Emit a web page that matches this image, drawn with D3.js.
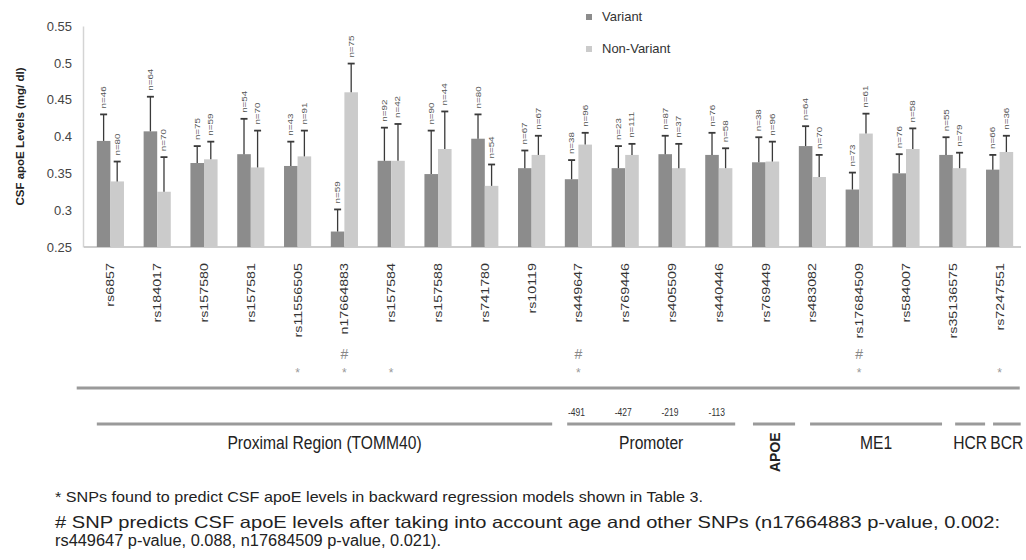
<!DOCTYPE html>
<html>
<head>
<meta charset="utf-8">
<script src="https://cdn.jsdelivr.net/npm/d3@7"></script>
<style>
  body { margin: 0; background: #fff; }
  svg { display: block; font-family: "Liberation Sans", Arial, sans-serif; }
</style>
</head>
<body>
<svg></svg>
<script>
let width = 1026;
let height = 560;

let snps = ["rs6857", "rs184017", "rs157580", "rs157581", "rs11556505", "n17664883",
            "rs157584", "rs157588", "rs741780", "rs10119", "rs449647", "rs769446",
            "rs405509", "rs440446", "rs769449", "rs483082", "rs17684509", "rs584007",
            "rs35136575", "rs7247551"];
let series = ["Variant", "Non-Variant"];

let variantMean = [0.394, 0.407, 0.364, 0.376, 0.360, 0.271, 0.367, 0.349, 0.397, 0.357,
                   0.342, 0.357, 0.376, 0.375, 0.365, 0.387, 0.328, 0.350, 0.375, 0.355];
let variantErr  = [0.430, 0.454, 0.387, 0.424, 0.393, 0.301, 0.412, 0.408, 0.430, 0.381,
                   0.368, 0.387, 0.401, 0.405, 0.399, 0.414, 0.351, 0.376, 0.399, 0.375];
let variantN    = [46, 64, 75, 54, 43, 59, 92, 90, 80, 67, 38, 23, 87, 76, 38, 64, 73, 76, 55, 66];

let nonMean = [0.339, 0.325, 0.369, 0.358, 0.373, 0.460, 0.367, 0.383, 0.333, 0.375,
               0.389, 0.375, 0.357, 0.357, 0.366, 0.345, 0.404, 0.383, 0.357, 0.379];
let nonErr  = [0.366, 0.372, 0.393, 0.408, 0.408, 0.499, 0.417, 0.434, 0.362, 0.401,
               0.405, 0.390, 0.390, 0.384, 0.393, 0.375, 0.431, 0.411, 0.378, 0.401];
let nonN    = [80, 70, 59, 70, 91, 75, 42, 44, 54, 67, 96, 111, 37, 58, 96, 70, 61, 58, 79, 36];

let yTicks = [0.25, 0.3, 0.35, 0.4, 0.45, 0.5, 0.55];

let hashSnps = ["n17664883", "rs449647", "rs17684509"];
let starSnps = ["rs11556505", "n17664883", "rs157584", "rs449647", "rs17684509", "rs7247551"];

let promoterSnps = ["rs449647", "rs769446", "rs405509", "rs440446"];
let promoterPos = ["-491", "-427", "-219", "-113"];

// region spans in SNP index units
let regionNames = ["Proximal Region (TOMM40)", "Promoter", "APOE", "ME1", "HCR", "BCR"];
let regionFrom  = [-0.29, 9.76, 13.73, 14.95, 18.05, 18.86];
let regionTo    = [9.44, 13.35, 14.63, 17.77, 18.69, 19.45];

let notes = [
    "* SNPs found to predict CSF apoE levels in backward regression models shown in Table 3.",
    "# SNP predicts CSF apoE levels after taking into account age and other SNPs (n17664883 p-value, 0.002:",
    "rs449647 p-value, 0.088, n17684509 p-value, 0.021)."
];
let noteWidths = [648, 945, 386];
let noteSizes = [15, 16.5, 16];

let colors = { "Variant": "#8c8c8c", "Non-Variant": "#cbcbcb" };

let data = snps.map((s, i) => ({
    snp: s,
    values: [
        { key: "Variant", mean: variantMean[i], err: variantErr[i], n: variantN[i] },
        { key: "Non-Variant", mean: nonMean[i], err: nonErr[i], n: nonN[i] }
    ]
}));

let svg = d3.select('svg')
    .attr('width', width)
    .attr('height', height);

svg.append('rect').attr('width', width).attr('height', height).attr('fill', '#fff');

let xScale = d3.scaleBand()
    .domain(snps)
    .range([87, 1023])
    .paddingInner(0.42)
    .paddingOuter(0.21);

let xSub = d3.scaleBand()
    .domain(series)
    .range([0, xScale.bandwidth()]);

let yScale = d3.scaleLinear()
    .domain([0.25, 0.55])
    .range([247, 26]);

let idx = d3.scaleLinear()
    .domain([0, snps.length - 1])
    .range([xScale(snps[0]) + xScale.bandwidth() / 2,
            xScale(snps[snps.length - 1]) + xScale.bandwidth() / 2]);

let cx = s => xScale(s) + xScale.bandwidth() / 2;

// y axis
let yAxis = d3.axisLeft(yScale)
    .tickValues(yTicks)
    .tickFormat(d => String(+d.toFixed(2)))
    .tickSize(0)
    .tickPadding(11);

let yg = svg.append('g')
    .attr('transform', 'translate(83, 0)')
    .call(yAxis);
yg.select('.domain').attr('stroke', '#d4d4d4').attr('stroke-width', 1.5);
yg.selectAll('text')
    .attr('font-size', 13)
    .attr('font-family', 'Liberation Sans')
    .attr('fill', '#444');

svg.append('line')
    .attr('x1', 84).attr('x2', 1021)
    .attr('y1', yScale(0.25)).attr('y2', yScale(0.25))
    .attr('stroke', '#bdbdbd').attr('stroke-width', 1.5);

svg.append('text')
    .attr('transform', `translate(24, ${yScale(0.4)}) rotate(-90)`)
    .attr('text-anchor', 'middle')
    .attr('font-size', 11.5)
    .attr('font-weight', 'bold')
    .attr('fill', '#222')
    .text('CSF apoE Levels (mg/ dl)');

// bars
let groups = svg.selectAll('g.snp')
    .data(data)
    .enter()
    .append('g')
        .attr('class', 'snp')
        .attr('transform', d => `translate(${xScale(d.snp)}, 0)`);

groups.selectAll('rect')
    .data(d => d.values)
    .enter()
    .append('rect')
        .attr('x', d => xSub(d.key))
        .attr('y', d => yScale(d.mean))
        .attr('width', xSub.bandwidth())
        .attr('height', d => yScale(0.25) - yScale(d.mean))
        .attr('fill', d => colors[d.key]);

groups.selectAll('line.err')
    .data(d => d.values)
    .enter()
    .append('line')
        .attr('class', 'err')
        .attr('x1', d => xSub(d.key) + xSub.bandwidth() / 2)
        .attr('x2', d => xSub(d.key) + xSub.bandwidth() / 2)
        .attr('y1', d => yScale(d.mean))
        .attr('y2', d => yScale(d.err))
        .attr('stroke', '#3a3a3a')
        .attr('stroke-width', 1.3);

groups.selectAll('line.cap')
    .data(d => d.values)
    .enter()
    .append('line')
        .attr('class', 'cap')
        .attr('x1', d => xSub(d.key) + xSub.bandwidth() / 2 - 3.5)
        .attr('x2', d => xSub(d.key) + xSub.bandwidth() / 2 + 3.5)
        .attr('y1', d => yScale(d.err))
        .attr('y2', d => yScale(d.err))
        .attr('stroke', '#3a3a3a')
        .attr('stroke-width', 1.8);

groups.selectAll('text.n')
    .data(d => d.values)
    .enter()
    .append('text')
        .attr('class', 'n')
        .attr('transform', d => `translate(${xSub(d.key) + xSub.bandwidth() / 2 + 2.5}, ${yScale(d.err) - 6}) rotate(-90) scale(1.4, 1)`)
        .attr('font-size', 7)
        .attr('fill', '#555')
        .text(d => 'n=' + d.n);

// x labels
svg.selectAll('text.snp')
    .data(snps)
    .enter()
    .append('text')
        .attr('class', 'snp')
        .attr('transform', d => `translate(${cx(d) + 4}, 263) rotate(-90) scale(1.3, 1)`)
        .attr('text-anchor', 'end')
        .attr('font-size', 11)
        .attr('fill', '#333')
        .text(d => d);

// markers
svg.selectAll('text.hash')
    .data(hashSnps)
    .enter()
    .append('text')
        .attr('class', 'hash')
        .attr('x', d => cx(d))
        .attr('y', 359)
        .attr('text-anchor', 'middle')
        .attr('font-size', 14)
        .attr('fill', '#888')
        .text('#');

svg.selectAll('text.star')
    .data(starSnps)
    .enter()
    .append('text')
        .attr('class', 'star')
        .attr('x', d => cx(d))
        .attr('y', 377)
        .attr('text-anchor', 'middle')
        .attr('font-size', 12)
        .attr('fill', '#999')
        .text('*');

svg.append('line')
    .attr('x1', idx(-0.72)).attr('x2', idx(19.43))
    .attr('y1', 388).attr('y2', 388)
    .attr('stroke', '#9a9a9a').attr('stroke-width', 3);

// promoter positions
svg.selectAll('text.pos')
    .data(promoterSnps)
    .enter()
    .append('text')
        .attr('class', 'pos')
        .attr('transform', d => `translate(${cx(d) - 2}, 416) scale(0.85, 1.15)`)
        .attr('text-anchor', 'middle')
        .attr('font-size', 10)
        .attr('fill', '#333')
        .text((d, i) => promoterPos[i]);

// regions
let regions = regionNames.map((name, i) => ({ name: name, from: regionFrom[i], to: regionTo[i] }));

svg.selectAll('line.region')
    .data(regions)
    .enter()
    .append('line')
        .attr('class', 'region')
        .attr('x1', d => idx(d.from))
        .attr('x2', d => idx(d.to))
        .attr('y1', 424).attr('y2', 424)
        .attr('stroke', '#9a9a9a').attr('stroke-width', 3);

svg.selectAll('text.region')
    .data(regions)
    .enter()
    .append('text')
        .attr('class', 'region')
        .attr('transform', d => d.name === 'APOE'
            ? `translate(${(idx(d.from) + idx(d.to)) / 2 + 6}, 472) rotate(-90)`
            : `translate(${(idx(d.from) + idx(d.to)) / 2}, 449) scale(0.92, 1.1)`)
        .attr('text-anchor', d => d.name === 'APOE' ? 'start' : 'middle')
        .attr('font-size', d => d.name === 'APOE' ? 14 : 17)
        .attr('font-weight', d => d.name === 'APOE' ? 'bold' : 'normal')
        .attr('fill', '#222')
        .text(d => d.name);

// legend
let legend = svg.selectAll('g.legend')
    .data(series)
    .enter()
    .append('g')
        .attr('class', 'legend')
        .attr('transform', (d, i) => `translate(586, ${14 + i * 32})`);

legend.append('rect')
    .attr('width', 6).attr('height', 6)
    .attr('fill', d => colors[d]);

legend.append('text')
    .attr('x', 16).attr('y', 7)
    .attr('font-size', 13)
    .attr('fill', '#333')
    .text(d => d);

// footnotes
svg.selectAll('text.note')
    .data(notes)
    .enter()
    .append('text')
        .attr('class', 'note')
        .attr('x', 55)
        .attr('y', (d, i) => [502, 528, 546][i])
        .attr('font-size', (d, i) => noteSizes[i])
        .attr('textLength', (d, i) => noteWidths[i])
        .attr('lengthAdjust', 'spacingAndGlyphs')
        .attr('fill', '#222')
        .text(d => d);
</script>
</body>
</html>
